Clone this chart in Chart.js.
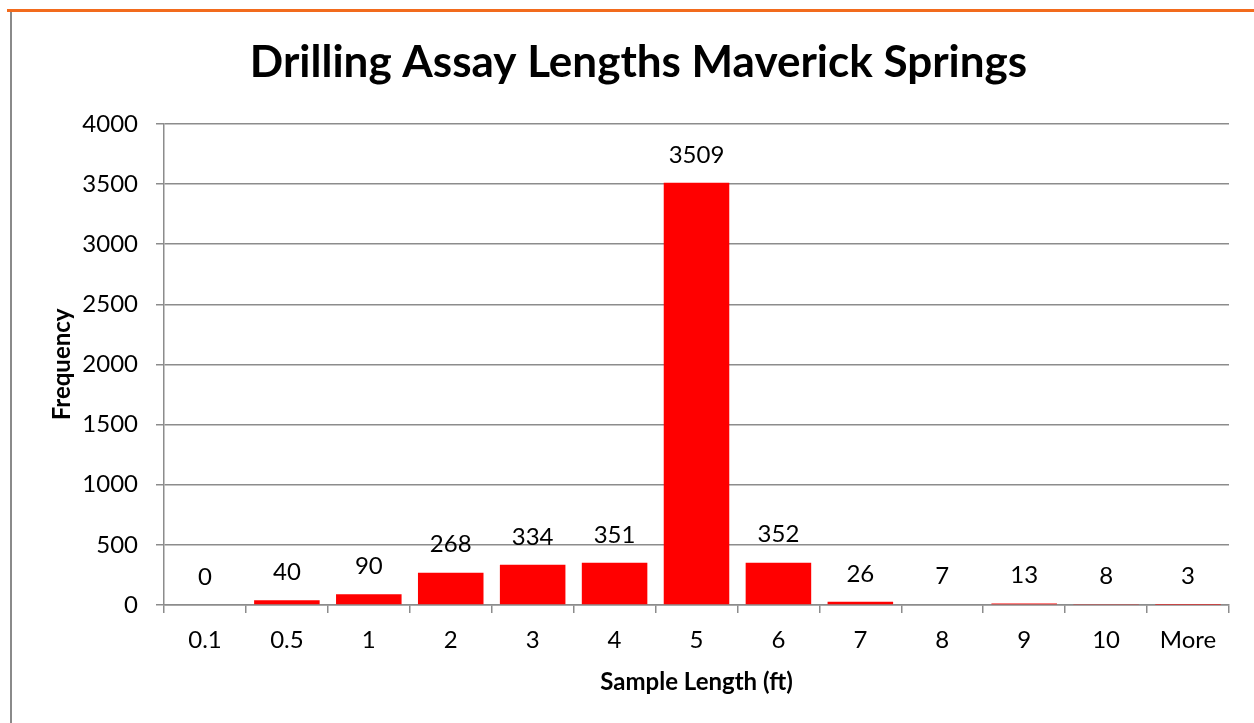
<!DOCTYPE html>
<html>
<head>
<meta charset="utf-8">
<script src="https://cdn.jsdelivr.net/npm/chart.js@4.4.0/dist/chart.umd.min.js"></script>
<style>
  html,body{margin:0;padding:0;background:#fff;}
  #wrap{position:relative;width:1254px;height:723px;}
  #topline{position:absolute;left:7px;top:9px;width:1247px;height:3px;background:#f26b1d;}
  #leftline{position:absolute;left:10px;top:12px;width:2px;height:711px;background:#8a8a8a;}
  canvas{position:absolute;left:0;top:0;}
</style>
</head>
<body>
<div id="wrap">
  <canvas id="c" width="1254" height="723"></canvas>
  <div id="topline"></div>
  <div id="leftline"></div>
</div>
<script>
const categories = ['0.1','0.5','1','2','3','4','5','6','7','8','9','10','More'];
const frequency = [0, 40, 90, 268, 334, 351, 3509, 352, 26, 7, 13, 8, 3];
const yTicks = [0, 500, 1000, 1500, 2000, 2500, 3000, 3500, 4000];

const FONT = 'Lato, "Open Sans", sans-serif';
const gridGray = '#8c8c8c';

const barLabels = {
  id: 'barLabels',
  afterDatasetsDraw(chart){
    const ctx = chart.ctx;
    const meta = chart.getDatasetMeta(0);
    ctx.save();
    ctx.font = '24px ' + FONT;
    ctx.fillStyle = '#000';
    ctx.textAlign = 'center';
    ctx.textBaseline = 'middle';
    meta.data.forEach((bar, i) => {
      ctx.fillText(String(frequency[i]), bar.x, bar.y - 28);
    });
    ctx.restore();
  }
};

new Chart(document.getElementById('c'), {
  type: 'bar',
  data: {
    labels: categories,
    datasets: [{
      label: 'Frequency',
      data: frequency,
      backgroundColor: '#ff0000',
      borderWidth: 0,
      categoryPercentage: 0.8,
      barPercentage: 1.0
    }]
  },
  options: {
    responsive: false,
    animation: false,
    layout: { padding: { left: 48, right: 25, top: 0, bottom: 26 } },
    plugins: {
      legend: { display: false },
      tooltip: { enabled: false },
      title: {
        display: true,
        text: 'Drilling Assay Lengths Maverick Springs',
        color: '#000',
        font: { family: FONT, size: 44, weight: 'bold' },
        padding: { top: 36, bottom: 35 }
      }
    },
    scales: {
      x: {
        grid: { drawOnChartArea: false, offset: true, tickLength: 8, color: gridGray, lineWidth: 1.5 },
        border: { color: gridGray, width: 1.5 },
        ticks: { color: '#000', font: { family: FONT, size: 24 }, padding: 13 },
        title: { display: true, text: 'Sample Length (ft)', color: '#000', font: { family: FONT, size: 24, weight: 'bold' }, padding: 0 },
        afterFit(scale){ scale.height = 92; }
      },
      y: {
        min: 0, max: 4000,
        afterBuildTicks(scale){ scale.ticks = yTicks.map(v => ({ value: v })); },
        grid: { color: gridGray, lineWidth: 1.5, tickLength: 8 },
        border: { color: gridGray, width: 1.5 },
        ticks: { color: '#000', font: { family: FONT, size: 24 }, padding: 18, callback: v => String(v) },
        title: { display: true, text: 'Frequency', color: '#000', font: { family: FONT, size: 24, weight: 'bold' }, padding: 0 },
        afterFit(scale){ scale.width = 116; }
      }
    }
  },
  plugins: [barLabels]
});
</script>
</body>
</html>
